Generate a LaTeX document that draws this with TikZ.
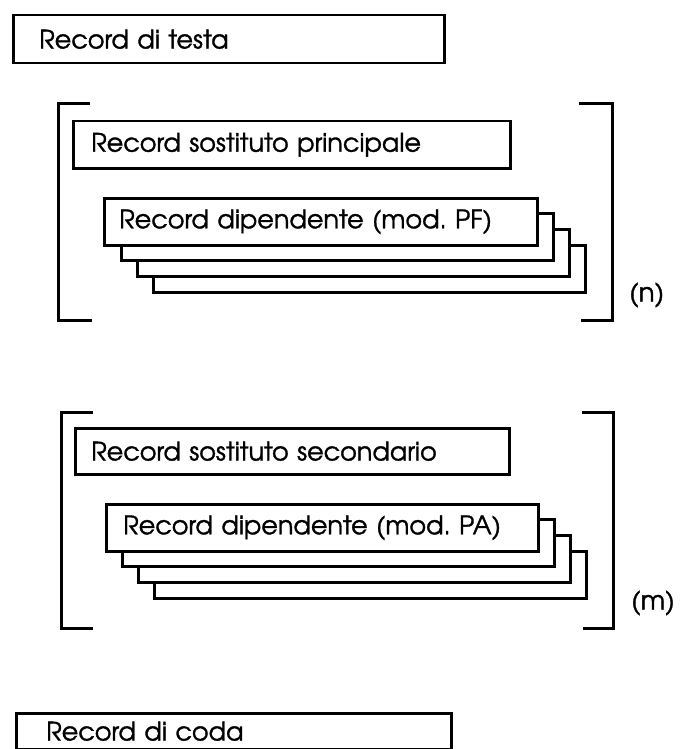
\documentclass[tikz,border=0pt]{standalone}
\usepackage{fontspec}
\setmainfont{texgyreadventor}[Extension=.otf, UprightFont=*-regular, BoldFont=*-bold, FakeBold=1.3]
\begin{document}
\begin{tikzpicture}[x=1pt,y=-1pt,
  recbox/.style={draw, line width=2.5pt, fill=white, anchor=north west, align=left,
    inner ysep=0pt, font=\fontsize{25.5}{30}\selectfont},
  layer/.style={draw, line width=2.5pt, fill=white, anchor=north west, inner sep=0pt,
    minimum width=432pt, minimum height=47pt},
  bracket/.style={draw, line width=3pt},
  mult/.style={font=\fontsize{26}{30}\selectfont, inner sep=0pt}]
\useasboundingbox (0,0) rectangle (683,749);

% header record
\node[recbox, inner xsep=26pt, text width=379pt, minimum height=48pt] (testa) at (12,14) {Record di testa};

% group 1
\draw[bracket] (90,104) -- (58,104) -- (58,320) -- (92,320);
\draw[bracket] (579,104) -- (612,104) -- (612,320) -- (581,320);
\node[recbox, inner xsep=18pt, text width=401pt, minimum height=47pt] (princ) at (72,120) {Record sostituto principale};
\node[layer] (pf4) at (152,244) {};
\node[layer] (pf3) at (136,228) {};
\node[layer] (pf2) at (120,212) {};
\node[recbox, inner xsep=15pt, text width=403pt, minimum height=47pt] (pf1) at (103,197) {Record dipendente (mod.~PF)};
\node[mult, anchor=west] (n) at (629,295) {(n)};

% group 2
\draw[bracket] (93,412) -- (61,412) -- (61,628) -- (93,628);
\draw[bracket] (582,412) -- (613,412) -- (613,628) -- (583,628);
\node[recbox, inner xsep=16pt, text width=402pt, minimum height=46pt] (sec) at (74,427) {Record sostituto secondario};
\node[layer] (pa4) at (153,550) {};
\node[layer] (pa3) at (137,534) {};
\node[layer] (pa2) at (121,518) {};
\node[recbox, inner xsep=17pt, text width=398pt, minimum height=47pt] (pa1) at (105,503) {Record dipendente (mod.~PA)};
\node[mult, anchor=west] (m) at (631,603) {(m)};

% trailer record
\node[recbox, inner xsep=30pt, text width=375pt, minimum height=36pt] (coda) at (15,712) {\raisebox{-5pt}{Record di coda}};
\end{tikzpicture}
\end{document}
